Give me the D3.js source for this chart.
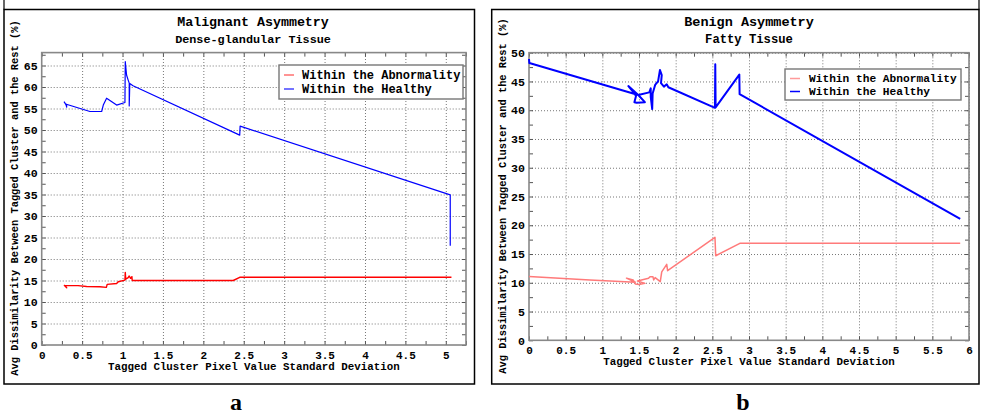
<!DOCTYPE html>
<html>
<head>
<meta charset="utf-8">
<script src="https://cdn.jsdelivr.net/npm/d3@7"></script>
<style>
  body { margin: 0; background: #fff; }
  svg { display: block; }
  text { font-family: "Liberation Mono", "Courier New", monospace; font-weight: bold; fill: #000; }
</style>
</head>
<body>
<svg width="985" height="416"></svg>
<script>
// each point: [std deviation, avg dissimilarity %]
const malignantAbnormality = [
  [0.276, 13.95], [0.30, 13.5], [0.31, 13.3], [0.29, 13.8], [0.45, 13.8], [0.556, 13.6],
  [0.72, 13.55], [0.80, 13.4], [0.81, 14.1], [0.927, 14.3], [0.947, 14.7], [1.03, 15.1],
  [1.034, 16.9], [1.04, 15.3], [1.07, 15.65], [1.083, 16.05], [1.10, 15.5], [1.116, 15.9],
  [1.12, 15.0], [2.37, 15.0], [2.45, 15.75], [5.07, 15.75]
];
const malignantHealthy = [
  [0.276, 56.6], [0.30, 55.9], [0.31, 55.3], [0.305, 56.0], [0.597, 54.3], [0.742, 54.3],
  [0.762, 55.8], [0.803, 57.4], [0.927, 55.8], [1.03, 56.4], [1.034, 65.9], [1.05, 62.8],
  [1.07, 61.6], [1.083, 60.9], [1.083, 55.6], [1.09, 60.8], [1.13, 60.3], [2.45, 48.8],
  [2.455, 50.9], [5.055, 34.9], [5.055, 23.1]
];
const benignAbnormality = [
  [0, 11.1], [0.83, 10.5], [1.45, 10.1], [1.33, 10.8], [1.42, 10.5], [1.45, 9.8], [1.50, 9.7],
  [1.58, 9.9], [1.48, 10.3], [1.63, 10.8], [1.65, 11.06], [1.69, 11.06], [1.70, 10.5],
  [1.72, 10.9], [1.79, 10.2], [1.81, 11.9], [1.878, 13.2], [1.89, 12.1], [2.536, 17.9],
  [2.546, 14.7], [2.875, 16.86], [5.88, 16.86]
];
const benignHealthy = [
  [0, 48.9], [0.005, 48.2], [1.49, 42.65], [1.355, 44.2], [1.42, 43.2], [1.46, 42.5],
  [1.437, 41.4], [1.468, 41.3], [1.58, 41.4], [1.49, 42.65], [1.64, 43.1], [1.66, 43.8],
  [1.66, 42.3], [1.68, 40.2], [1.686, 42.9], [1.72, 44.4], [1.76, 45.0], [1.786, 47.0],
  [1.81, 46.1], [1.80, 44.7], [1.84, 44.1], [1.878, 44.5], [1.90, 44.0], [2.536, 40.4],
  [2.54, 48.0], [2.545, 40.5], [2.868, 46.2], [2.872, 42.8], [5.88, 21.1]
];

const seriesNames = ["Within the Abnormality", "Within the Healthy"];
const xLabel = "Tagged Cluster Pixel Value Standard Deviation";
const yLabel = "Avg Dissimilarity Between Tagged Cluster and the Rest (%)";

const panels = [
  {
    title: "Malignant Asymmetry", subtitle: "Dense-glandular Tissue", tag: "a",
    series: [malignantAbnormality, malignantHealthy],
    xMax: 5.25, xTickMax: 5, yMax: 68, yTickMax: 65,
    box: [4, 9.5, 474.5, 384], plot: [41.7, 52.6, 466, 345],
    cx: 253, tagX: 236, yTitleX: 14, yTitleY: 198, xTitleY: 370,
    colors: ["#ff0000", "#0000ff"], widths: [1.4, 1.2], legendColors: ["#ff7070", "#4444ff"],
    legend: { x: 279, y: 65, w: 184, h: 34, font: 12, tx: 302, rows: [75, 89] },
    titleFont: 13.3, subFont: 11.8, tickFont: 11
  },
  {
    title: "Benign Asymmetry", subtitle: "Fatty Tissue", tag: "b",
    series: [benignAbnormality, benignHealthy],
    xMax: 6, xTickMax: 6, yMax: 50, yTickMax: 50,
    box: [491.7, 9.5, 979, 384], plot: [529, 52.7, 969, 340.3],
    cx: 749, tagX: 743, yTitleX: 502, yTitleY: 196, xTitleY: 365,
    colors: ["#ff7a7a", "#0000ff"], widths: [1.5, 2], legendColors: ["#ff9a9a", "#0000ff"],
    legend: { x: 785, y: 69, w: 176, h: 31, font: 11.2, tx: 809, rows: [78.5, 91.5] },
    titleFont: 13.5, subFont: 12.2, tickFont: 11
  }
];

const svg = d3.select("svg");

// table borders peeking above the panels
svg.append("g").selectAll("line").data([4, 979]).join("line")
  .attr("x1", d => d).attr("x2", d => d).attr("y1", 0).attr("y2", 9.5)
  .attr("stroke", "#000").attr("stroke-width", 1.2);

const drawPanel = (p) => {
  const g = svg.append("g");
  const [bx0, by0, bx1, by1] = p.box;
  const [px0, py0, px1, py1] = p.plot;

  g.append("rect").attr("x", bx0).attr("y", by0).attr("width", bx1 - bx0).attr("height", by1 - by0)
    .attr("fill", "#fff").attr("stroke", "#000").attr("stroke-width", 1.5);

  const x = d3.scaleLinear().domain([0, p.xMax]).range([px0, px1]);
  const y = d3.scaleLinear().domain([0, p.yMax]).range([py1, py0]);

  const xMajor = d3.range(0, p.xTickMax + 1e-9, 0.5);
  const yMajor = d3.range(0, p.yTickMax + 1e-9, 5);
  const xMinor = d3.range(0, p.xMax + 1e-9, 0.25);
  const yMinor = d3.range(0, p.yMax + 1e-9, 2.5);

  // dotted grid
  g.append("g").attr("transform", `translate(0,${py1})`)
    .call(d3.axisBottom(x).tickValues(xMajor.filter(v => v > 0)).tickSize(-(py1 - py0)).tickFormat(""))
    .call(a => a.select(".domain").remove())
    .selectAll("line").attr("stroke", "#777").attr("stroke-dasharray", "1,2");
  g.append("g").attr("transform", `translate(${px0},0)`)
    .call(d3.axisLeft(y).tickValues(yMajor.filter(v => v > 0)).tickSize(-(px1 - px0)).tickFormat(""))
    .call(a => a.select(".domain").remove())
    .selectAll("line").attr("stroke", "#777").attr("stroke-dasharray", "1,2");

  // inward ticks on all four sides
  const tickAxes = [
    [d3.axisBottom(x).tickValues(xMinor), `translate(0,${py1})`],
    [d3.axisTop(x).tickValues(xMinor), `translate(0,${py0})`],
    [d3.axisLeft(y).tickValues(yMinor), `translate(${px0},0)`],
    [d3.axisRight(y).tickValues(yMinor), `translate(${px1},0)`]
  ];
  tickAxes.forEach(([ax, tr]) => {
    g.append("g").attr("transform", tr)
      .call(ax.tickSize(-4).tickFormat(""))
      .call(a => a.select(".domain").remove())
      .selectAll("line").attr("stroke", "#555").attr("stroke-width", 1);
  });

  // tick labels
  g.append("g").attr("transform", `translate(0,${py1})`)
    .call(d3.axisBottom(x).tickValues(xMajor).tickSize(0).tickPadding(6).tickFormat(d3.format("")))
    .call(a => a.select(".domain").remove())
    .selectAll("text").attr("font-size", p.tickFont);
  g.append("g").attr("transform", `translate(${px0},0)`)
    .call(d3.axisLeft(y).tickValues(yMajor).tickSize(0).tickPadding(4))
    .call(a => a.select(".domain").remove())
    .selectAll("text").attr("font-size", p.tickFont + 0.6);

  // plot frame
  g.append("rect").attr("x", px0).attr("y", py0).attr("width", px1 - px0).attr("height", py1 - py0)
    .attr("fill", "none").attr("stroke", "#888").attr("stroke-width", 1.6);

  // series
  const line = d3.line().x(d => x(d[0])).y(d => y(d[1]));
  p.series.forEach((s, i) => {
    g.append("path").datum(s).attr("d", line)
      .attr("fill", "none").attr("stroke", p.colors[i]).attr("stroke-width", p.widths[i])
      .attr("stroke-linejoin", "round");
  });

  // titles
  g.append("text").attr("x", p.cx).attr("y", 26).attr("text-anchor", "middle")
    .attr("font-size", p.titleFont).text(p.title);
  g.append("text").attr("x", p.cx).attr("y", 43).attr("text-anchor", "middle")
    .attr("font-size", p.subFont).text(p.subtitle);
  g.append("text").attr("x", (px0 + px1) / 2).attr("y", p.xTitleY).attr("text-anchor", "middle")
    .attr("font-size", 10.8).text(xLabel);
  g.append("text").attr("transform", `translate(${p.yTitleX},${p.yTitleY}) rotate(-90)`)
    .attr("text-anchor", "middle").attr("dy", "0.35em").attr("font-size", 10.4).text(yLabel);

  // legend
  const L = p.legend;
  g.append("rect").attr("x", L.x).attr("y", L.y).attr("width", L.w).attr("height", L.h)
    .attr("fill", "#fff").attr("stroke", "#777").attr("stroke-width", 1.4);
  seriesNames.forEach((name, i) => {
    g.append("line").attr("x1", L.x + 5).attr("x2", L.x + 15).attr("y1", L.rows[i]).attr("y2", L.rows[i])
      .attr("stroke", p.legendColors[i]).attr("stroke-width", 1.5);
    g.append("text").attr("x", L.tx).attr("y", L.rows[i]).attr("dy", "0.35em")
      .attr("font-size", L.font).text(name);
  });

  // panel letter
  g.append("text").attr("x", p.tagX).attr("y", 409.5)
    .attr("text-anchor", "middle").attr("font-size", 24)
    .style("font-family", "'Liberation Serif', 'Times New Roman', serif").text(p.tag);
};

panels.forEach(drawPanel);
</script>
</body>
</html>
